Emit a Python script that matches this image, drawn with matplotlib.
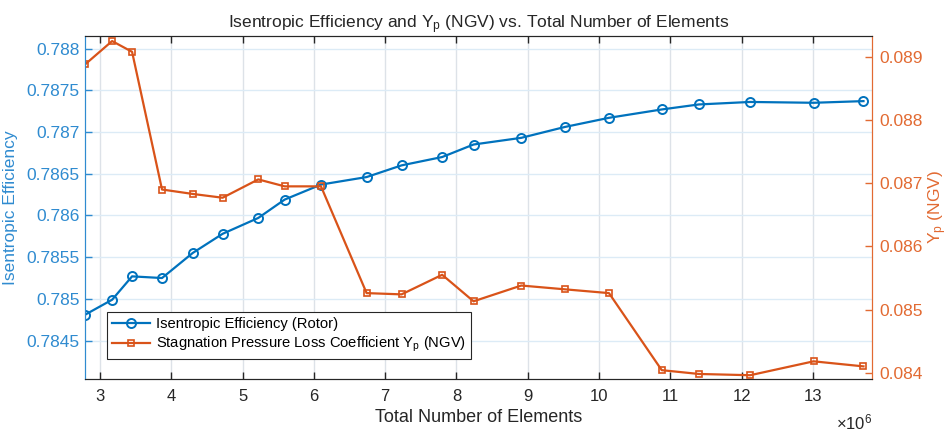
import numpy as np
import matplotlib.pyplot as plt
import matplotlib
from matplotlib.ticker import FormatStrFormatter, FuncFormatter, MultipleLocator

matplotlib.rc('font', family=['Liberation Sans', 'DejaVu Sans'])
matplotlib.rcParams['mathtext.fontset'] = 'custom'
matplotlib.rcParams['mathtext.rm'] = 'Liberation Sans'
matplotlib.rcParams['mathtext.it'] = 'Liberation Sans'

# mesh sizes (total number of elements)
elements = np.array([2.79e6, 3.17e6, 3.45e6, 3.87e6, 4.30e6, 4.72e6, 5.22e6,
                     5.59e6, 6.10e6, 6.74e6, 7.23e6, 7.80e6, 8.24e6, 8.91e6,
                     9.52e6, 10.14e6, 10.88e6, 11.40e6, 12.12e6, 13.01e6, 13.71e6])

# rotor isentropic efficiency
eff_rotor = [0.78481, 0.78499, 0.78527, 0.78525, 0.78555, 0.78578, 0.78597,
             0.78619, 0.78637, 0.78646, 0.78660, 0.78670, 0.78685, 0.78693,
             0.78706, 0.78717, 0.78727, 0.78733, 0.78736, 0.78735, 0.78737]

# NGV stagnation pressure loss coefficient
yp_ngv = [0.08888, 0.08925, 0.08908, 0.08690, 0.08683, 0.08677, 0.08706,
          0.08695, 0.08695, 0.08526, 0.08524, 0.08555, 0.08513, 0.08538,
          0.08532, 0.08526, 0.08404, 0.08398, 0.08396, 0.08418, 0.08410]

blue = '#0072BD'
orange = '#D95319'
blue_ax = '#2F8BD0'
orange_ax = '#E26A32'
dark = '#262626'

fig = plt.figure(figsize=(9.49, 4.34), dpi=100)
ax1 = fig.add_axes([0.0896, 0.1267, 0.8293, 0.7903])
ax2 = ax1.twinx()

l1, = ax1.plot(elements, eff_rotor, '-o', color=blue, lw=1.6, ms=6.5,
               mfc='none', mew=1.4, label='Isentropic Efficiency (Rotor)')
l2, = ax2.plot(elements, yp_ngv, '-s', color=orange, lw=1.6, ms=5,
               mfc='none', mew=1.2,
               label='Stagnation Pressure Loss Coefficient Y$_p$ (NGV)')

ax1.set_xlim(2.79e6, 13.83e6)
ax1.set_ylim(0.78404, 0.78815)
ax2.set_ylim(0.0839, 0.08933)

ax1.xaxis.set_major_locator(MultipleLocator(1e6))
ax1.xaxis.set_major_formatter(FuncFormatter(lambda v, p: '%g' % (v / 1e6)))
ax1.yaxis.set_major_locator(MultipleLocator(0.0005))
ax1.yaxis.set_major_formatter(FormatStrFormatter('%g'))
ax2.yaxis.set_major_locator(MultipleLocator(0.001))
ax2.yaxis.set_major_formatter(FormatStrFormatter('%g'))

# grid: vertical in grey, horizontal tinted with the left axis colour
ax1.grid(axis='x', color='#dde2e8', lw=1.0)
ax1.grid(axis='y', color='#dcebf6', lw=1.0)
ax1.set_axisbelow(True)

ax1.tick_params(axis='x', direction='in', top=True, length=5, width=1,
                color=dark, labelcolor=dark, labelsize=12, pad=7)
ax1.tick_params(axis='y', direction='in', length=5, width=1,
                color=blue_ax, labelcolor=blue_ax, labelsize=12.5, pad=4)
ax2.tick_params(axis='y', direction='in', length=5, width=1,
                color=orange_ax, labelcolor=orange_ax, labelsize=12.5, pad=5)

for ax in (ax1, ax2):
    ax.spines['top'].set_color(dark)
    ax.spines['bottom'].set_color(dark)
ax1.spines['left'].set_color(blue_ax)
ax2.spines['left'].set_color(blue_ax)
ax1.spines['right'].set_color(orange_ax)
ax2.spines['right'].set_color(orange_ax)

ax1.set_xlabel('Total Number of Elements', fontsize=13, color=dark, labelpad=4)
ax1.set_ylabel('Isentropic Efficiency', fontsize=12.5, color=blue_ax, labelpad=6)
ax2.set_ylabel('Y$_p$ (NGV)', fontsize=12.5, color=orange_ax, labelpad=3)
ax1.set_title('Isentropic Efficiency and Y$_p$ (NGV) vs. Total Number of Elements',
              fontsize=12.5, color=dark, pad=5)
fig.text(0.919, 0.003, r'$\times10^6$', ha='right', va='bottom',
         fontsize=12, color=dark)

leg = ax2.legend(handles=[l1, l2], loc='lower left',
                 bbox_to_anchor=(0.028, 0.057), borderaxespad=0,
                 fontsize=10.6, fancybox=False, framealpha=1, edgecolor=dark,
                 handlelength=2.6, handletextpad=0.35, borderpad=0.35,
                 labelspacing=0.25)
leg.get_frame().set_linewidth(0.8)

fig.savefig('out.png', dpi=100)
